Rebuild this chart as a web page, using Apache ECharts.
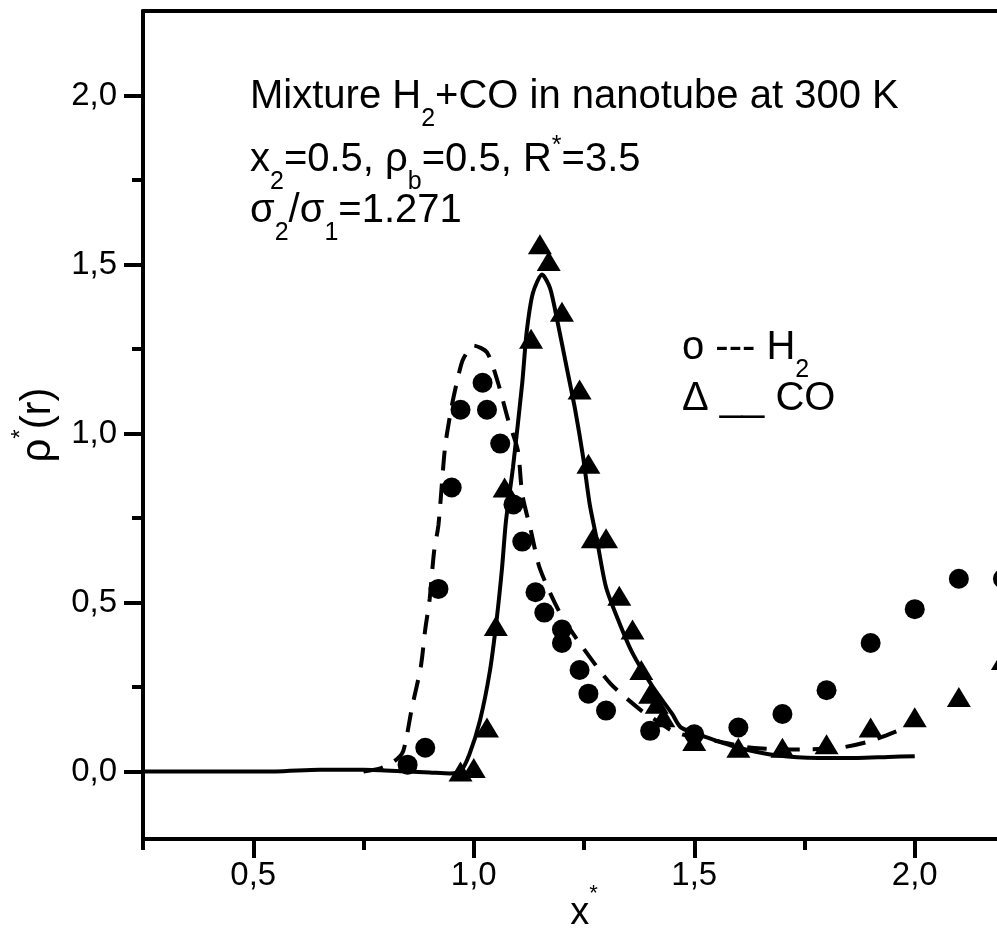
<!DOCTYPE html>
<html>
<head>
<meta charset="utf-8">
<script src="https://cdn.jsdelivr.net/npm/echarts@6/dist/echarts.min.js"></script>
<style>
  html, body { margin: 0; padding: 0; background: #fff; }
  #chart { width: 997px; height: 931px; }
</style>
</head>
<body>
<div id="chart"></div>
<script>
// H2 simulation points (circles)
var h2SimX = [0.85, 0.89, 0.92, 0.95, 0.97, 1.02, 1.03, 1.06, 1.09, 1.11, 1.14, 1.16, 1.20, 1.20, 1.24, 1.26, 1.30, 1.40, 1.50, 1.60, 1.70, 1.80, 1.90, 2.00, 2.10, 2.20];
var h2SimY = [0.02, 0.07, 0.54, 0.84, 1.07, 1.15, 1.07, 0.97, 0.79, 0.68, 0.53, 0.47, 0.42, 0.38, 0.30, 0.23, 0.18, 0.12, 0.11, 0.13, 0.17, 0.24, 0.38, 0.48, 0.57, 0.57];

// CO simulation points (triangles)
var coSimX = [0.97, 1.00, 1.03, 1.05, 1.07, 1.13, 1.15, 1.17, 1.20, 1.24, 1.26, 1.27, 1.30, 1.33, 1.36, 1.38, 1.40, 1.415, 1.43, 1.50, 1.60, 1.70, 1.80, 1.90, 2.00, 2.10, 2.20];
var coSimY = [0.00, 0.01, 0.13, 0.43, 0.84, 1.28, 1.56, 1.51, 1.36, 1.13, 0.91, 0.69, 0.69, 0.52, 0.42, 0.30, 0.23, 0.20, 0.16, 0.09, 0.07, 0.07, 0.08, 0.13, 0.16, 0.22, 0.33];

// H2 theory (dashed)
var h2ThX = [0.75, 0.79, 0.82, 0.84, 0.86, 0.88, 0.89, 0.90, 0.91, 0.92, 0.935, 0.95, 0.965, 0.976, 1.00, 1.03, 1.055, 1.078, 1.10, 1.11, 1.13, 1.15, 1.195, 1.24, 1.31, 1.38, 1.415, 1.45, 1.50, 1.55, 1.63, 1.73, 1.83, 1.90, 1.98];
var h2ThY = [0.00, 0.01, 0.03, 0.06, 0.19, 0.31, 0.42, 0.51, 0.65, 0.73, 0.96, 1.08, 1.17, 1.22, 1.26, 1.24, 1.15, 1.04, 0.95, 0.82, 0.71, 0.60, 0.47, 0.38, 0.26, 0.18, 0.15, 0.12, 0.10, 0.09, 0.07, 0.065, 0.07, 0.09, 0.13];

// CO theory (solid)
var coThX = [0.25, 0.40, 0.55, 0.65, 0.75, 0.85, 0.90, 0.946, 0.97, 0.99, 1.014, 1.037, 1.052, 1.064, 1.073, 1.089, 1.11, 1.12, 1.134, 1.155, 1.173, 1.19, 1.21, 1.23, 1.248, 1.263, 1.28, 1.30, 1.33, 1.36, 1.406, 1.45, 1.47, 1.53, 1.60, 1.69, 1.78, 1.87, 1.94, 2.00];
var coThY = [0.00, 0.00, 0.00, 0.005, 0.005, 0.00, -0.003, -0.006, 0.00, 0.05, 0.15, 0.30, 0.45, 0.60, 0.74, 0.90, 1.15, 1.30, 1.415, 1.47, 1.43, 1.33, 1.20, 1.07, 0.93, 0.79, 0.68, 0.545, 0.44, 0.35, 0.25, 0.17, 0.13, 0.10, 0.07, 0.047, 0.04, 0.04, 0.043, 0.045];

var xMajor = [0.5, 1.0, 1.5, 2.0];
var xMinor = [0.25, 0.75, 1.25, 1.75];
var yMajor = [0.0, 0.5, 1.0, 1.5, 2.0];
var yMinor = [0.25, 0.75, 1.25, 1.75];

function zip(xs, ys) {
    var out = [];
    for (var i = 0; i < xs.length; i++) out.push([xs[i], ys[i]]);
    return out;
}
function comma(v) { return v.toFixed(1).replace('.', ','); }

var FONT = '"Liberation Sans", Arial, sans-serif';
var chart = echarts.init(document.getElementById('chart'));

var axisLine = { show: true, onZero: false, lineStyle: { color: '#000', width: 4 } };
var noLine = { show: false, onZero: false };
var txt = { fontFamily: FONT, fontSize: 40, color: '#000' };
var sub = { fontFamily: FONT, fontSize: 25, color: '#000', verticalAlign: 'bottom', padding: [0, 0, -15, 0] };
var sup = { fontFamily: FONT, fontSize: 25, color: '#000', verticalAlign: 'top', padding: [-6, 0, 0, 0] };

var option = {
    animation: false,
    backgroundColor: '#fff',
    grid: { left: 143, top: 11, width: 882, height: 828, outerBoundsMode: 'none', containLabel: false },
    xAxis: [
        {
            type: 'value', min: 0.25, max: 2.25, position: 'bottom',
            axisLine: axisLine,
            axisTick: { show: true, customValues: xMajor, length: 19, lineStyle: { color: '#000', width: 4 } },
            axisLabel: { customValues: xMajor, formatter: comma, fontFamily: FONT, fontSize: 33, color: '#000', margin: 20 },
            splitLine: { show: false },
            name: '{a|x}{s|*}', nameLocation: 'middle', nameGap: 56, nameMoveOverlap: false,
            nameTextStyle: { rich: { a: { fontFamily: FONT, fontSize: 38, color: '#000' }, s: { fontFamily: FONT, fontSize: 22, color: '#000', verticalAlign: 'top', padding: [-12, 0, 0, 0] } } }
        },
        {
            type: 'value', min: 0.25, max: 2.25, position: 'bottom',
            axisLine: noLine,
            axisTick: { show: true, customValues: xMinor, length: 11, lineStyle: { color: '#000', width: 4 } },
            axisLabel: { show: false }, splitLine: { show: false }
        },
        {
            type: 'value', min: 0.25, max: 2.25, position: 'top',
            axisLine: axisLine, axisTick: { show: false }, axisLabel: { show: false }, splitLine: { show: false }
        }
    ],
    yAxis: [
        {
            type: 'value', min: -0.2, max: 2.25, position: 'left',
            axisLine: axisLine,
            axisTick: { show: true, customValues: yMajor, length: 19, lineStyle: { color: '#000', width: 4 } },
            axisLabel: { customValues: yMajor, formatter: comma, fontFamily: FONT, fontSize: 33, color: '#000', margin: 26 },
            splitLine: { show: false },
            name: '{a|ρ}{s|*}{a|(r)}', nameLocation: 'middle', nameGap: 84, nameRotate: 90, nameMoveOverlap: false,
            nameTextStyle: { rich: { a: { fontFamily: FONT, fontSize: 42, color: '#000' }, s: { fontFamily: FONT, fontSize: 24, color: '#000', verticalAlign: 'top', padding: [-8, 0, 0, 0] } } }
        },
        {
            type: 'value', min: -0.2, max: 2.25, position: 'left',
            axisLine: noLine,
            axisTick: { show: true, customValues: yMinor, length: 11, lineStyle: { color: '#000', width: 4 } },
            axisLabel: { show: false }, splitLine: { show: false }
        }
    ],
    graphic: [
        { type: 'text', left: 250, top: 77, style: { text: '{t|Mixture H}{d|2}{t|+CO in nanotube at 300 K}', rich: { t: txt, d: sub } } },
        { type: 'text', left: 250, top: 134, style: { text: '{t|x}{d|2}{t|=0.5, ρ}{d|b}{t|=0.5, R}{u|*}{t|=3.5}', rich: { t: txt, d: sub, u: sup } } },
        { type: 'text', left: 250, top: 191, style: { text: '{t|σ}{d|2}{t|/σ}{d|1}{t|=1.271}', rich: { t: txt, d: sub } } },
        { type: 'text', left: 682, top: 328, style: { text: '{t|o --- H}{d|2}', rich: { t: txt, d: sub } } },
        { type: 'text', left: 682, top: 379, style: { text: '{t|Δ __ CO}', rich: { t: txt } } }
    ],
    series: [
        {
            name: 'H2 theory', type: 'line', data: zip(h2ThX, h2ThY), smooth: 0.25, showSymbol: false,
            lineStyle: { color: '#000', width: 4, type: [20, 13] }
        },
        {
            name: 'CO theory', type: 'line', data: zip(coThX, coThY), smooth: 0.25, showSymbol: false,
            lineStyle: { color: '#000', width: 4 }
        },
        {
            name: 'H2', type: 'scatter', data: zip(h2SimX, h2SimY), symbol: 'circle', symbolSize: 20,
            itemStyle: { color: '#000', opacity: 1 }
        },
        {
            name: 'CO', type: 'scatter', data: zip(coSimX, coSimY), symbol: 'triangle', symbolSize: [24, 20],
            itemStyle: { color: '#000', opacity: 1 }
        }
    ]
};
chart.setOption(option);
</script>
</body>
</html>
